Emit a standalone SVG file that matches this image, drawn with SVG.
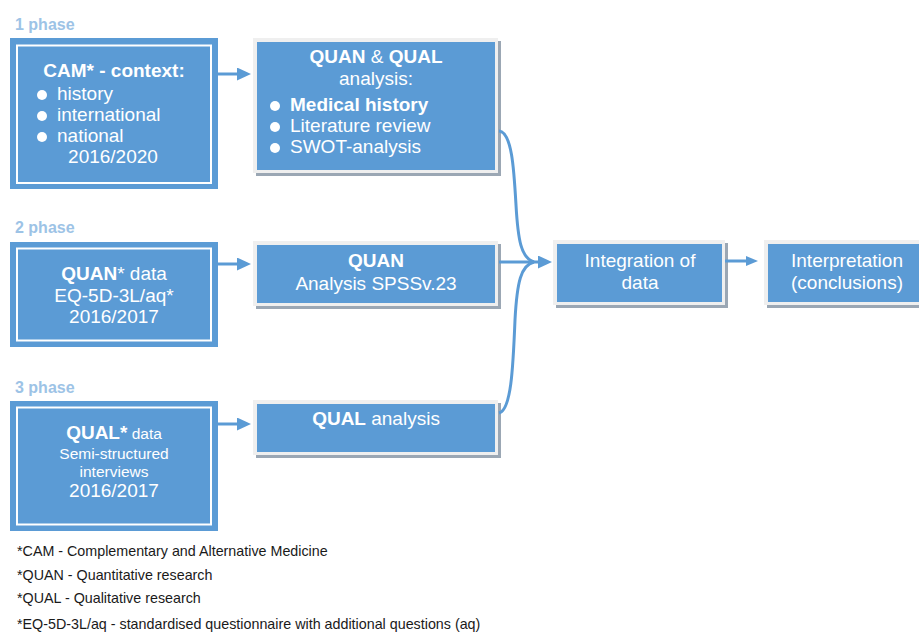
<svg xmlns="http://www.w3.org/2000/svg" width="919" height="632" viewBox="0 0 919 632">
  <style>
    text { font-family: "Liberation Sans", Arial, sans-serif; }
    .phase { font-size: 16px; font-weight: bold; fill: #9DC3E6; }
    .src { fill: #5B9BD5; }
    .frame { fill: none; stroke: #ffffff; stroke-width: 2; }
    .blue { fill: #5B9BD5; }
    .rim { fill: #EFEFEF; }
    .shadow { fill: #9BA7B4; }
    .t { font-size: 19px; fill: #ffffff; }
    .c { text-anchor: middle; }
    .b { font-weight: bold; }
    .sm { font-size: 15.5px; }
    .dot { fill: #ffffff; }
    .link { fill: none; stroke: #5B9BD5; stroke-width: 3; }
    .note { font-size: 14.3px; fill: #1a1a1a; }
  </style>
  <defs>
    <marker id="ah" viewBox="0 0 14 13" refX="0" refY="6.5" markerWidth="14" markerHeight="13" markerUnits="userSpaceOnUse" orient="auto">
      <path d="M0,0 L14,6.5 L0,13 Z" fill="#5B9BD5"/>
    </marker>
    <marker id="ahs" viewBox="0 0 12 10" refX="0" refY="5" markerWidth="12" markerHeight="10" markerUnits="userSpaceOnUse" orient="auto">
      <path d="M0,0 L12,5 L0,10 Z" fill="#5B9BD5"/>
    </marker>
  </defs>

  <rect width="919" height="632" fill="#ffffff"/>

  <!-- phase labels -->
  <text class="phase" x="15" y="30">1 phase</text>
  <text class="phase" x="15" y="233">2 phase</text>
  <text class="phase" x="15" y="393">3 phase</text>

  <!-- phase 1 source -->
  <g id="cam">
    <rect class="src" x="10" y="38" width="208" height="151"/>
    <rect class="frame" x="17" y="45.5" width="194" height="137.5"/>
    <text class="t c b" x="114" y="77">CAM* - context:</text>
    <circle class="dot" cx="42" cy="95" r="5"/>
    <circle class="dot" cx="42" cy="116" r="5"/>
    <circle class="dot" cx="42" cy="137" r="5"/>
    <text class="t" x="57" y="100">history</text>
    <text class="t" x="57" y="121">international</text>
    <text class="t" x="57" y="142">national</text>
    <text class="t c" x="113" y="163">2016/2020</text>
  </g>

  <!-- phase 2 source -->
  <g id="quan-data">
    <rect class="src" x="10" y="242" width="208" height="105"/>
    <rect class="frame" x="17" y="248.5" width="194" height="92"/>
    <text class="t c" x="114" y="280"><tspan class="b">QUAN</tspan>* data</text>
    <text class="t c" x="114" y="302">EQ-5D-3L/aq*</text>
    <text class="t c" x="114" y="323">2016/2017</text>
  </g>

  <!-- phase 3 source -->
  <g id="qual-data">
    <rect class="src" x="10" y="401" width="208" height="130"/>
    <rect class="frame" x="17" y="407.5" width="194" height="117"/>
    <text class="t c" x="114" y="439"><tspan class="b">QUAL*</tspan><tspan class="sm"> data</tspan></text>
    <text class="t c sm" x="114" y="459">Semi-structured</text>
    <text class="t c sm" x="114" y="477">interviews</text>
    <text class="t c" x="114" y="497">2016/2017</text>
  </g>

  <!-- analysis stage -->
  <g id="quan-qual-analysis">
    <rect class="shadow" x="256" y="41" width="245" height="135"/>
    <rect class="rim" x="253" y="38" width="245" height="135"/>
    <rect class="blue" x="257" y="42" width="238" height="128"/>
    <text class="t c" x="376" y="63"><tspan class="b">QUAN</tspan> &amp; <tspan class="b">QUAL</tspan></text>
    <text class="t c" x="376" y="85">analysis:</text>
    <circle class="dot" cx="275" cy="106" r="5"/>
    <circle class="dot" cx="275" cy="127" r="5"/>
    <circle class="dot" cx="275" cy="148" r="5"/>
    <text class="t b" x="290" y="111">Medical history</text>
    <text class="t" x="290" y="132">Literature review</text>
    <text class="t" x="290" y="153">SWOT-analysis</text>
  </g>

  <g id="quan-analysis">
    <rect class="shadow" x="256" y="244" width="245" height="65"/>
    <rect class="rim" x="253" y="241" width="245" height="65"/>
    <rect class="blue" x="257" y="245" width="238" height="58"/>
    <text class="t c b" x="376" y="267">QUAN</text>
    <text class="t c" x="376" y="290">Analysis SPSSv.23</text>
  </g>

  <g id="qual-analysis">
    <rect class="shadow" x="256" y="403" width="245" height="55"/>
    <rect class="rim" x="253" y="400" width="245" height="55"/>
    <rect class="blue" x="257" y="404" width="238" height="48"/>
    <text class="t c" x="376" y="425"><tspan class="b">QUAL</tspan> analysis</text>
  </g>

  <g id="integration">
    <rect class="shadow" x="556" y="243" width="172" height="65"/>
    <rect class="rim" x="553" y="240" width="172" height="65"/>
    <rect class="blue" x="557" y="244" width="165" height="58"/>
    <text class="t c" x="640" y="267">Integration of</text>
    <text class="t c" x="640" y="289">data</text>
  </g>

  <g id="interpretation">
    <rect class="shadow" x="767" y="243" width="172" height="65"/>
    <rect class="rim" x="764" y="240" width="172" height="65"/>
    <rect class="blue" x="768" y="244" width="165" height="58"/>
    <text class="t c" x="847" y="267">Interpretation</text>
    <text class="t c" x="847" y="289">(conclusions)</text>
  </g>

  <!-- connectors -->
  <g id="connectors">
    <line class="link" x1="218" y1="74" x2="237" y2="74" marker-end="url(#ah)"/>
    <line class="link" x1="218" y1="264" x2="237" y2="264" marker-end="url(#ah)"/>
    <line class="link" x1="218" y1="424" x2="237" y2="424" marker-end="url(#ah)"/>
    <path class="link" d="M499,131 C512,132 514,170 516,205 C518,240 521,258 534,262"/>
    <path class="link" d="M499,413 C511,410 513,370 515,320 C517,282 521,265 534,262"/>
    <line class="link" x1="499" y1="262" x2="538" y2="262" marker-end="url(#ah)"/>
    <line class="link" x1="725" y1="261" x2="746" y2="261" stroke-width="4" marker-end="url(#ahs)"/>
  </g>

  <!-- footnotes -->
  <text class="note" x="17" y="556">*CAM - Complementary and Alternative Medicine</text>
  <text class="note" x="17" y="580">*QUAN - Quantitative research</text>
  <text class="note" x="17" y="603">*QUAL - Qualitative research</text>
  <text class="note" x="17" y="629">*EQ-5D-3L/aq - standardised questionnaire with additional questions (aq)</text>
</svg>
